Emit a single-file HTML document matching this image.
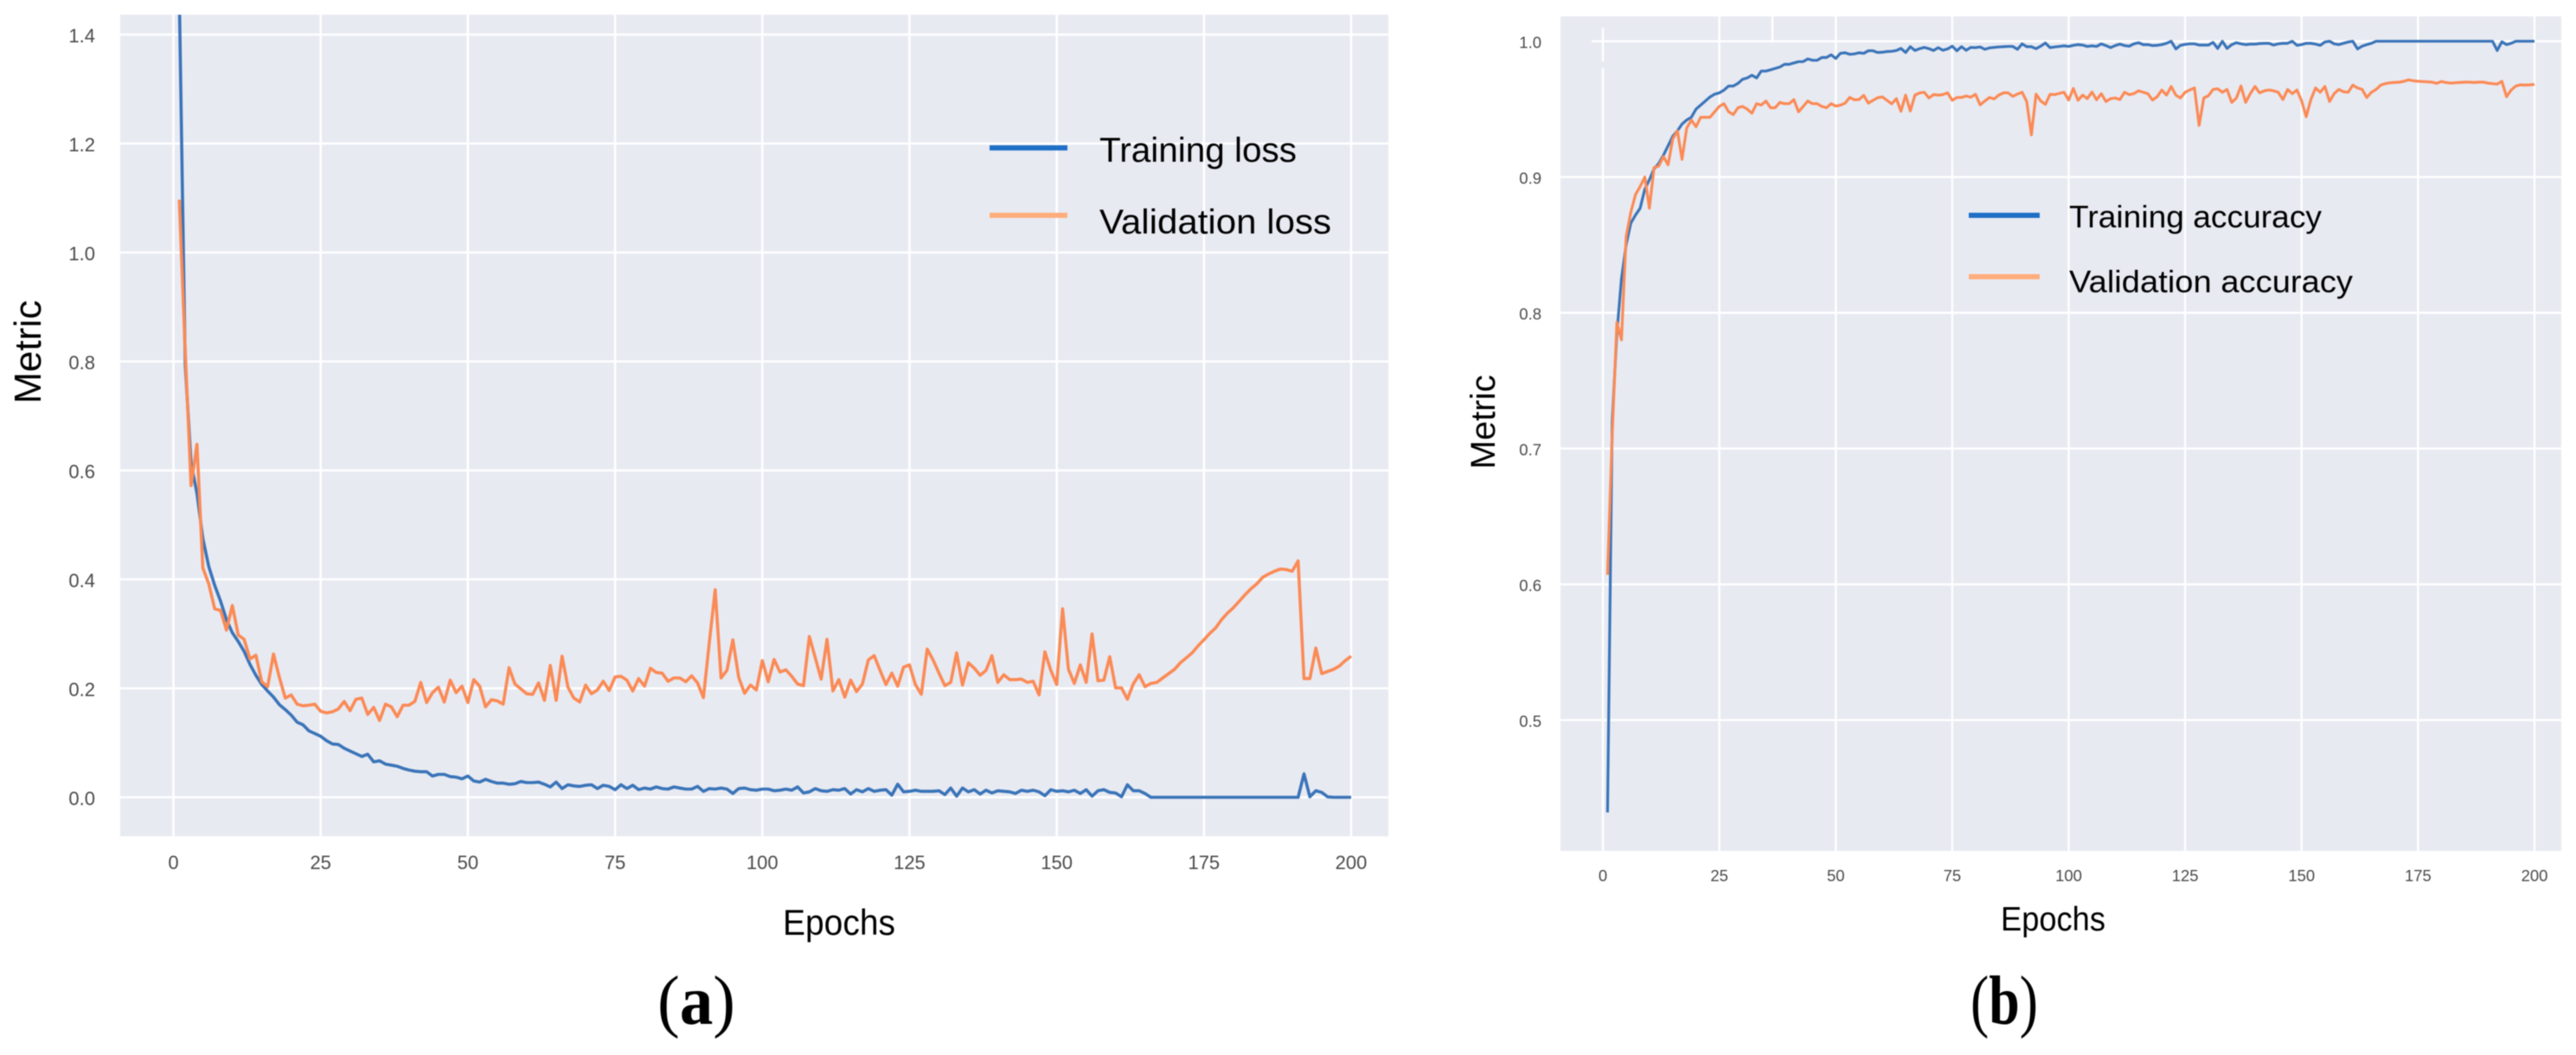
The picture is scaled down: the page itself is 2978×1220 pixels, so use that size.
<!DOCTYPE html>
<html lang="en">
<head>
<meta charset="utf-8">
<title>Training and validation curves</title>
<style>
html,body{margin:0;padding:0;background:#fff;width:2978px;height:1220px;overflow:hidden}
svg{display:block;filter:blur(0.6px)}
text{font-family:"Liberation Sans",sans-serif}
.tick{fill:#4a4a4a}
.serif{font-family:"Liberation Serif",serif}
</style>
</head>
<body>
<svg id="figure" xmlns="http://www.w3.org/2000/svg" width="2978" height="1220" viewBox="0 0 2978 1220">
  <defs>
    <clipPath id="clip-a"><rect x="139" y="17" width="1466" height="950"/></clipPath>
    <clipPath id="clip-b"><rect x="1804" y="19" width="1157" height="965"/></clipPath>
  </defs>
  <g id="panel-a">
    <rect id="plot-a" x="139" y="17" width="1466" height="950" fill="#e8eaf2"/>
    <g id="grid-a"></g>
    <g id="ticks-a"></g>
    <g id="series-a" clip-path="url(#clip-a)"></g>
    <text transform="translate(47,407) rotate(-90)" text-anchor="middle" font-size="44" fill="#000">Metric</text>
    <text x="905" y="1081" font-size="42" textLength="130" lengthAdjust="spacingAndGlyphs" fill="#000">Epochs</text>
    <g>
      <rect x="1144" y="168" width="90" height="6" fill="#1f6fc6"/>
      <text x="1271" y="187" font-size="40" textLength="228" lengthAdjust="spacingAndGlyphs" fill="#000">Training loss</text>
      <rect x="1144" y="246" width="90" height="6" fill="#ffad7d"/>
      <text x="1271" y="270" font-size="40" textLength="268" lengthAdjust="spacingAndGlyphs" fill="#000">Validation loss</text>
    </g>
    <text class="serif" x="760" y="1184" font-size="80" textLength="90" lengthAdjust="spacingAndGlyphs" fill="#000">(<tspan font-weight="bold">a</tspan>)</text>
  </g>
  <g id="panel-b">
    <rect id="plot-b" x="1804" y="19" width="1157" height="965" fill="#e8eaf2"/>
    <g id="grid-b"></g>
    <g id="ticks-b"></g>
    <g id="series-b" clip-path="url(#clip-b)"></g>
    <text transform="translate(1728,488) rotate(-90)" text-anchor="middle" font-size="40" fill="#000">Metric</text>
    <text x="2313" y="1076" font-size="39" textLength="121" lengthAdjust="spacingAndGlyphs" fill="#000">Epochs</text>
    <g>
      <rect x="2276" y="246" width="82" height="6" fill="#1f6fc6"/>
      <text x="2392" y="263" font-size="36" textLength="292" lengthAdjust="spacingAndGlyphs" fill="#000">Training accuracy</text>
      <rect x="2276" y="317" width="82" height="6" fill="#ffad7d"/>
      <text x="2392" y="338" font-size="36" textLength="328" lengthAdjust="spacingAndGlyphs" fill="#000">Validation accuracy</text>
    </g>
    <text class="serif" x="2278" y="1184" font-size="80" textLength="78" lengthAdjust="spacingAndGlyphs" fill="#000">(<tspan font-weight="bold">b</tspan>)</text>
  </g>
</svg>
<script>
const epochTicks = [0, 25, 50, 75, 100, 125, 150, 175, 200];
const lossTicks = [0.0, 0.2, 0.4, 0.6, 0.8, 1.0, 1.2, 1.4];
const accuracyTicks = [0.5, 0.6, 0.7, 0.8, 0.9, 1.0];

const trainingLoss = [
1.47,.795,.613,.558,.475,.424,.389,.360,.326,.302,
.286,.268,.244,.224,.207,.195,.184,.170,.161,.151,
.138,.133,.122,.117,.112,.104,.098,.097,.090,.085,
.080,.075,.079,.065,.067,.061,.059,.057,.053,.050,
.048,.047,.047,.039,.042,.042,.038,.037,.034,.039,
.030,.028,.033,.029,.026,.026,.024,.025,.029,.027,
.027,.028,.024,.019,.028,.016,.023,.021,.020,.022,
.023,.016,.022,.020,.014,.023,.016,.022,.014,.017,
.015,.019,.016,.015,.019,.017,.015,.015,.020,.011,
.016,.015,.017,.015,.007,.016,.017,.014,.013,.015,
.015,.012,.013,.015,.013,.019,.008,.010,.016,.012,
.011,.014,.013,.016,.006,.014,.010,.016,.011,.013,
.014,.004,.024,.010,.011,.013,.011,.011,.011,.012,
.005,.017,.002,.017,.010,.014,.006,.013,.008,.012,
.011,.010,.007,.013,.011,.013,.010,.003,.014,.011,
.012,.010,.013,.007,.014,.002,.012,.014,.009,.008,
.001,.023,.012,.012,.007,0,0,0,0,0,
0,0,0,0,0,0,0,0,0,0,
0,0,0,0,0,0,0,0,0,0,
0,.043,.001,.012,.009,.001,0,0,0,0
];

const validationLoss = [
1.097,.82,.572,.648,.421,.392,.346,.343,.307,.352,
.298,.290,.254,.261,.212,.203,.263,.220,.182,.188,
.171,.168,.169,.171,.158,.155,.157,.162,.176,.159,
.180,.182,.152,.165,.141,.171,.166,.148,.169,.169,
.176,.211,.174,.192,.202,.175,.215,.192,.204,.174,
.216,.204,.166,.179,.177,.171,.238,.208,.199,.190,
.189,.210,.178,.242,.178,.259,.202,.182,.175,.206,
.190,.197,.213,.196,.221,.222,.215,.195,.218,.204,
.237,.229,.228,.213,.219,.219,.212,.223,.210,.183,
.284,.381,.219,.233,.289,.220,.191,.206,.197,.251,
.212,.253,.230,.234,.222,.208,.205,.295,.256,.217,
.290,.195,.216,.184,.215,.194,.208,.252,.260,.233,
.207,.228,.204,.239,.243,.207,.189,.272,.252,.228,
.205,.211,.265,.206,.247,.237,.224,.233,.260,.211,
.225,.216,.216,.217,.211,.213,.188,.267,.233,.207,
.346,.235,.209,.243,.211,.300,.214,.215,.258,.201,
.201,.180,.208,.225,.203,.209,.211,.219,.227,.235,
.247,.256,.265,.278,.289,.301,.311,.326,.338,.348,
.360,.372,.383,.392,.404,.410,.415,.419,.418,.415,
.434,.218,.218,.274,.227,.231,.235,.241,.251,.259
];

const trainingAccuracy = [
.432,.72,.785,.825,.850,.866,.872,.877,.891,.898,
.906,.910,.916,.923,.930,.934,.939,.942,.944,.950,
.953,.956,.959,.961,.962,.964,.967,.967,.969,.972,
.973,.975,.973,.978,.978,.979,.980,.981,.983,.983,
.984,.985,.985,.987,.986,.986,.988,.988,.990,.9873,
.9911,.9915,.9904,.9907,.9915,.9911,.9930,.9930,.9917,.9919,
.9924,.9926,.9932,.9947,.9917,.9960,.9932,.9945,.9955,.9945,
.9932,.9953,.9934,.9943,.9964,.9930,.9960,.9934,.9955,.9953,
.9958,.9941,.9951,.9955,.9958,.9960,.9962,.9962,.9941,.9981,
.9960,.9960,.9945,.9964,.9987,.9953,.9958,.9962,.9966,.9962,
.9970,.9975,.9972,.9962,.9966,.9962,.9981,.9968,.9953,.9968,
.9979,.9968,.9964,.9981,.9989,.9975,.9975,.9968,.9970,.9975,
.9985,1,.9943,.9970,.9977,.9981,.9981,.9972,.9972,.9972,
.9992,.9947,1,.9947,.9975,.9989,.9981,.9975,.9979,.9979,
.9983,.9985,.9985,.9972,.9981,.9985,.9985,1,.9970,.9975,
.9985,.9985,.9979,.9970,.9994,1,.9981,.9975,.9985,.9994,
1,.9943,.9964,.9975,.9985,1,1,1,1,1,
1,1,1,1,1,1,1,1,1,1,
1,1,1,1,1,1,1,1,1,1,
1,.9932,.9996,.9975,.9985,1,1,1,1,1
];

const validationAccuracy = [
.607,.71,.793,.780,.856,.874,.887,.893,.900,.877,
.907,.908,.915,.909,.928,.934,.913,.936,.942,.937,
.944,.944,.944,.948,.952,.954,.948,.946,.951,.952,
.950,.947,.954,.953,.956,.951,.951,.955,.954,.954,
.957,.948,.952,.956,.954,.954,.952,.951,.954,.9522,
.9529,.9544,.9586,.9569,.9571,.9601,.9544,.9565,.9584,.9590,
.9565,.9539,.9577,.9484,.9603,.9486,.9603,.9620,.9624,.9582,
.9607,.9603,.9607,.9620,.9565,.9586,.9586,.9597,.9588,.9609,
.9531,.9560,.9586,.9575,.9603,.9620,.9620,.9594,.9611,.9624,
.9556,.9310,.9611,.9560,.9535,.9609,.9607,.9616,.9624,.9567,
.9652,.9565,.9603,.9577,.9626,.9569,.9614,.9556,.9577,.9582,
.9571,.9624,.9607,.9614,.9635,.9624,.9614,.9567,.9592,.9641,
.9603,.9667,.9603,.9582,.9624,.9641,.9656,.9380,.9582,.9599,
.9645,.9650,.9624,.9645,.9550,.9582,.9671,.9550,.9614,.9667,
.9620,.9635,.9641,.9635,.9624,.9571,.9645,.9614,.9641,.9561,
.9444,.9571,.9656,.9624,.9667,.9556,.9614,.9645,.9628,.9624,
.9677,.9656,.9645,.9586,.9624,.9645,.9677,.9688,.9694,.9696,
.9699,.9705,.9716,.9709,.9705,.9703,.9701,.9699,.9690,.9703,
.9696,.9692,.9694,.9696,.9699,.9699,.9696,.9699,.9699,.9692,
.9688,.9684,.9705,.9592,.9641,.9671,.9679,.9677,.9679,.9682
];

const SVG_NS = 'http://www.w3.org/2000/svg';

function lossX(epoch) { return 200.5 + epoch * (1562 - 200.5) / 200; }
function lossY(value) { return 922 - value * 630; }
function accuracyX(epoch) { return 1853 + epoch * (2930 - 1853) / 200; }
function accuracyY(value) { return 47.7 + (1 - value) * 1570; }

function make(tag, parent, attrs) {
  const el = document.createElementNS(SVG_NS, tag);
  for (const key in attrs) el.setAttribute(key, attrs[key]);
  parent.appendChild(el);
  return el;
}

function drawGridAndTicks(gridId, ticksId, xFn, yFn, yValues, bounds, fontSize, labelRight, xLabelY, yOffset, gridWidth) {
  const grid = document.getElementById(gridId);
  const ticks = document.getElementById(ticksId);
  yValues.forEach(function (v) {
    const line = make('line', grid, { x1: bounds.left, x2: bounds.right, y1: yFn(v), y2: yFn(v), stroke: '#fff', 'stroke-width': gridWidth });
    
    
    const label = make('text', ticks, { x: labelRight, y: yFn(v) + yOffset, 'text-anchor': 'end', 'font-size': fontSize, class: 'tick' });
    
    
    label.textContent = v.toFixed(1);
  });
  epochTicks.forEach(function (e) {
    const line = make('line', grid, { x1: xFn(e), x2: xFn(e), y1: bounds.top, y2: bounds.bottom, stroke: '#fff', 'stroke-width': gridWidth });
    
    
    const label = make('text', ticks, { x: xFn(e), y: xLabelY, 'text-anchor': 'middle', 'font-size': fontSize, class: 'tick' });
    
    
    label.textContent = String(e);
  });
}

function drawSeries(parentId, values, xFn, yFn, color, width, name) {
  const points = values.map(function (v, i) {
    return xFn(i + 1).toFixed(1) + ',' + yFn(v).toFixed(1);
  }).join(' ');
  const line = make('polyline', document.getElementById(parentId), {
    points: points, fill: 'none', stroke: color, 'stroke-width': width, 'stroke-linejoin': 'round'
  });
  
  
}

drawGridAndTicks('grid-a', 'ticks-a', lossX, lossY, lossTicks,
  { left: 139, right: 1605, top: 17, bottom: 967 }, 22, 110, 1005, 9, 2.6);
drawGridAndTicks('grid-b', 'ticks-b', accuracyX, accuracyY, accuracyTicks,
  { left: 1804, right: 2961, top: 19, bottom: 984 }, 18.5, 1782, 1019, 8, 2.4);

/* Paste artefact near the top-left of the accuracy plot */
const plotPatch = make('rect', document.getElementById('grid-b'), { x: 1804, y: 19, width: 36, height: 60, fill: '#e8eaf2' });


const zeroGap = make('rect', document.getElementById('grid-b'), { x: 1850, y: 19, width: 6, height: 13, fill: '#e8eaf2' });


const zeroGapLower = make('rect', document.getElementById('grid-b'), { x: 1850, y: 71, width: 6, height: 8, fill: '#e8eaf2' });


const strayLine = make('line', document.getElementById('grid-b'), { x1: 2049, x2: 2049, y1: 19, y2: 47, stroke: '#fff', 'stroke-width': 2.4 });



drawSeries('series-a', trainingLoss, lossX, lossY, '#3a74b8', 3.6, 'training-loss-line');
drawSeries('series-a', validationLoss, lossX, lossY, '#fb8a55', 3.6, 'validation-loss-line');
drawSeries('series-b', trainingAccuracy, accuracyX, accuracyY, '#3a74b8', 3.2, 'training-accuracy-line');
drawSeries('series-b', validationAccuracy, accuracyX, accuracyY, '#fb8a55', 3.2, 'validation-accuracy-line');
</script>
</body>
</html>
